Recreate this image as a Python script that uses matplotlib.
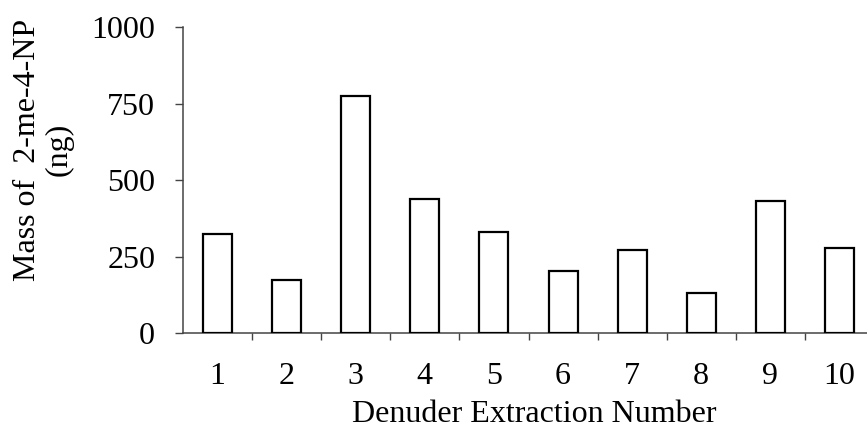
import numpy as np
import matplotlib
matplotlib.use("Agg")
import matplotlib.pyplot as plt
from matplotlib.ticker import FixedLocator, NullFormatter

# Mass per denuder extraction
extraction = [1, 2, 3, 4, 5, 6, 7, 8, 9, 10]
mass_ng = [323, 173, 774, 438, 329, 203, 271, 130, 432, 277]
yticks = [0, 250, 500, 750, 1000]

plt.rcParams['font.family'] = ['Liberation Serif', 'DejaVu Serif']
plt.rcParams['font.size'] = 23

fig = plt.figure(figsize=(8.67, 4.32), dpi=100)
ax = fig.add_axes([183 / 867, 99 / 432, 691 / 867, 305.7 / 432])

ax.bar(extraction, mass_ng, width=0.42, color='white', edgecolor='black',
       linewidth=1.6, zorder=3)

ax.set_xlim(0.5, 10.5)
ax.set_ylim(0, 1000)
ax.set_yticks(yticks)

# numbers under the bars, tick marks between categories
ax.set_xticks(extraction)
ax.xaxis.set_minor_locator(FixedLocator(np.arange(1.5, 10.5, 1.0)))
ax.xaxis.set_minor_formatter(NullFormatter())
ax.tick_params(axis='x', which='major', length=0, pad=21)
ax.tick_params(axis='x', which='minor', length=5, width=1, color='#444444',
               direction='out')
ax.tick_params(axis='y', length=6, width=1, color='#444444', direction='out',
               pad=14)

for side in ('top', 'right'):
    ax.spines[side].set_visible(False)
for side in ('left', 'bottom'):
    ax.spines[side].set_color('#444444')
    ax.spines[side].set_linewidth(1.1)

ax.set_xlabel('Denuder Extraction Number', labelpad=6)
ax.xaxis.label.set_x(0.509)
ax.set_ylabel('Mass of  2-me-4-NP\n(ng)', linespacing=1.12)
ax.yaxis.set_label_coords(-0.158, 0.6)

fig.savefig('out.png', dpi=100)
